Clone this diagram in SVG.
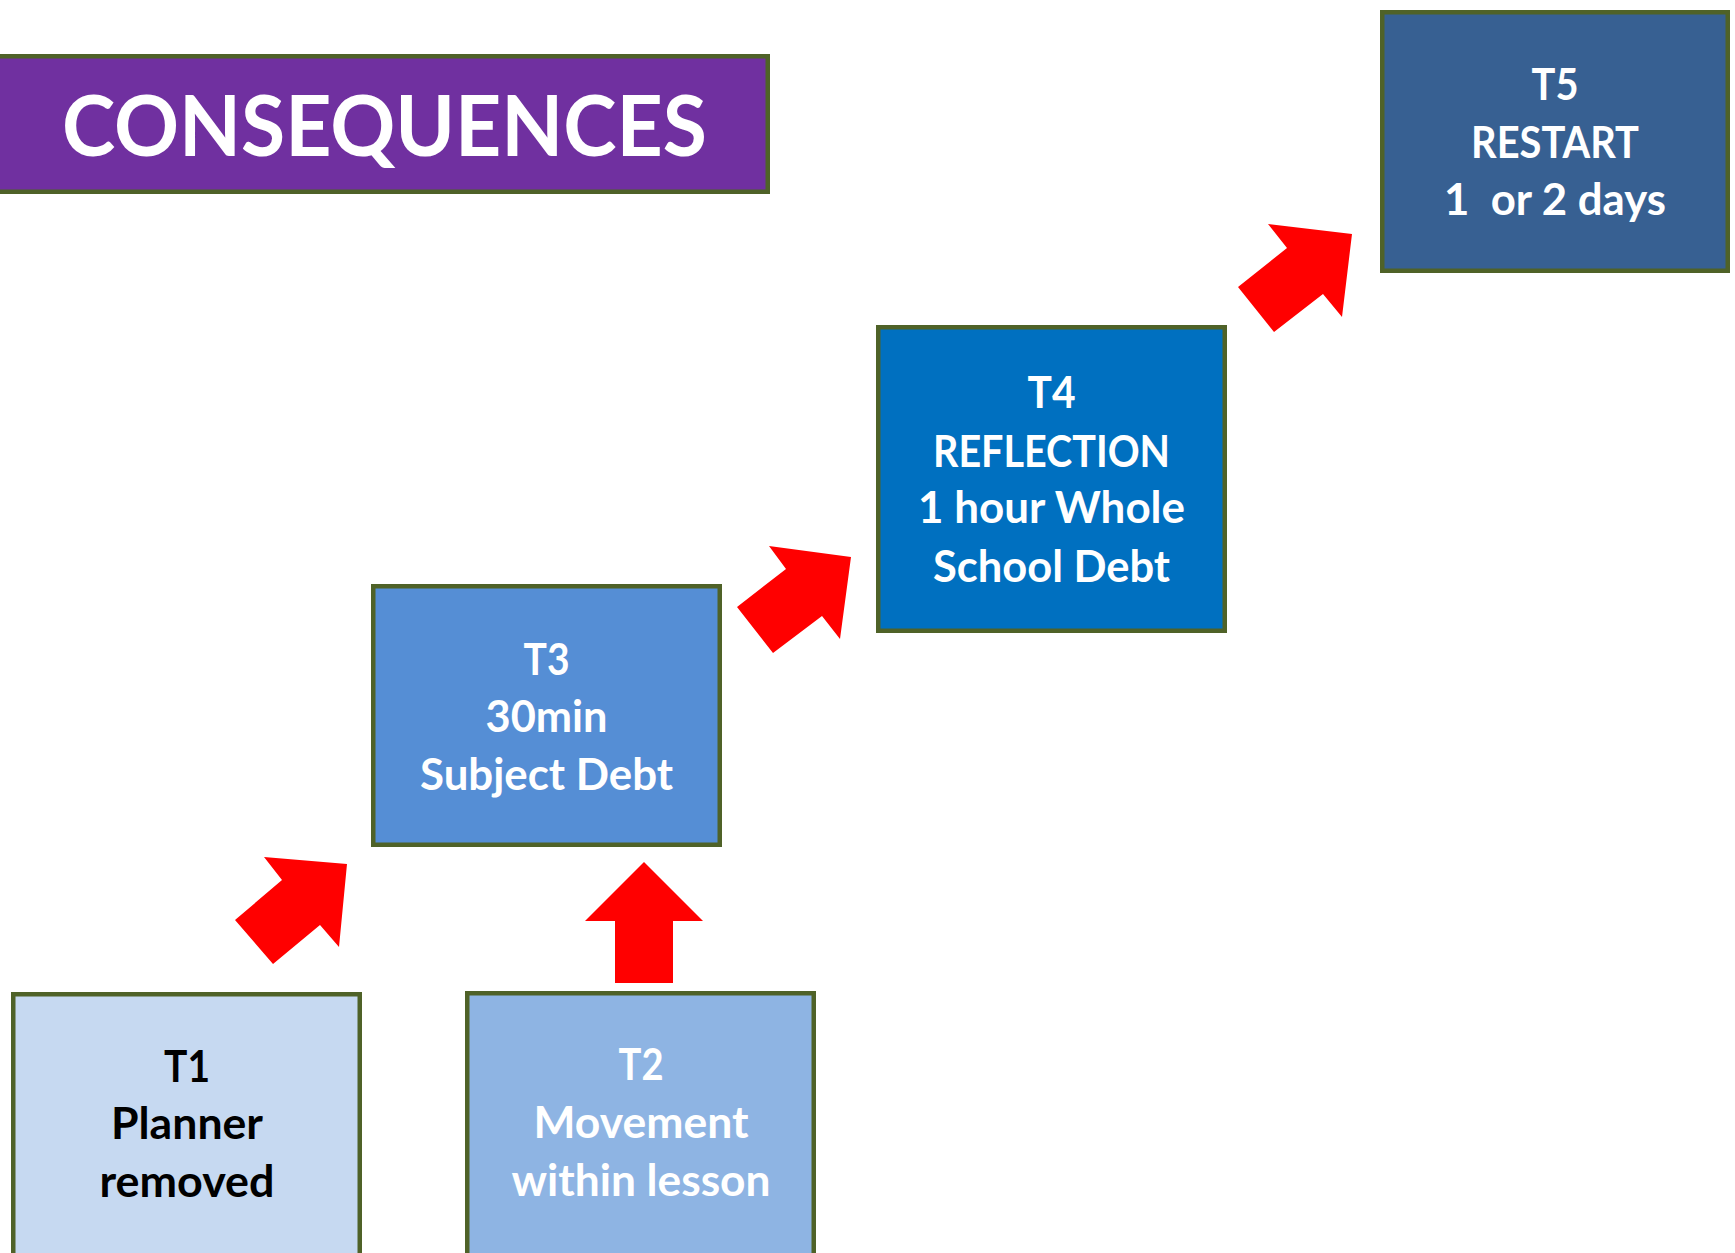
<svg xmlns="http://www.w3.org/2000/svg" width="1735" height="1253" viewBox="0 0 1735 1253">
<style>
.box{stroke:#4F6228;stroke-width:4.5}
.t{font-family:Lato,"Open Sans","Liberation Sans",sans-serif;font-weight:bold;font-size:43px;text-anchor:middle;fill:#FFFFFF}
.big{font-size:85px}
.dark{fill:#000000}
.arrow{fill:#FF0000}
</style>
<rect width="1735" height="1253" fill="#FFFFFF"/>
<g id="title">
<rect class="box" x="-5" y="56.25" width="772.75" height="135.5" fill="#7030A0"/>
<text class="t big" x="384.5" y="156" textLength="645" lengthAdjust="spacingAndGlyphs">CONSEQUENCES</text>
</g>
<g id="connectors">
<polygon class="arrow" points="264,857 347,864 339,947 320,925 273,964 235,920 282,880"/>
<polygon class="arrow" points="644,862 703,921 673,921 673,983 615,983 615,921 585,921"/>
<polygon class="arrow" points="769,546 851,557 840,639 822,616 773,653 737,607 786,569"/>
<polygon class="arrow" points="1268,224 1352,234 1342,317 1323,294 1274,332 1238,287 1287,248"/>
</g>
<g id="T1">
<rect class="box" x="13.25" y="994.25" width="346.5" height="300" fill="#C6D9F1"/>
<text class="t dark" x="187" y="1082" textLength="46" lengthAdjust="spacingAndGlyphs">T1</text>
<text class="t dark" x="187" y="1139" textLength="152" lengthAdjust="spacingAndGlyphs">Planner</text>
<text class="t dark" x="187" y="1197" textLength="175" lengthAdjust="spacingAndGlyphs">removed</text>
</g>
<g id="T2">
<rect class="box" x="467.25" y="993.25" width="346.5" height="300" fill="#8EB4E3"/>
<text class="t" x="641" y="1080" textLength="45" lengthAdjust="spacingAndGlyphs">T2</text>
<text class="t" x="641" y="1138" textLength="215" lengthAdjust="spacingAndGlyphs">Movement</text>
<text class="t" x="641" y="1196" textLength="259" lengthAdjust="spacingAndGlyphs">within lesson</text>
</g>
<g id="T3">
<rect class="box" x="373.25" y="586.25" width="346.5" height="258.5" fill="#558ED5"/>
<text class="t" x="546.5" y="675" textLength="46" lengthAdjust="spacingAndGlyphs">T3</text>
<text class="t" x="546.5" y="732" textLength="122" lengthAdjust="spacingAndGlyphs">30min</text>
<text class="t" x="546.5" y="790" textLength="253" lengthAdjust="spacingAndGlyphs">Subject Debt</text>
</g>
<g id="T4">
<rect class="box" x="878.25" y="327.25" width="346.5" height="303.5" fill="#0070C0"/>
<text class="t" x="1051.5" y="408" textLength="48" lengthAdjust="spacingAndGlyphs">T4</text>
<text class="t" x="1051.5" y="467" textLength="237" lengthAdjust="spacingAndGlyphs">REFLECTION</text>
<text class="t" x="1051.5" y="523" textLength="267" lengthAdjust="spacingAndGlyphs">1 hour Whole</text>
<text class="t" x="1051.5" y="582" textLength="237" lengthAdjust="spacingAndGlyphs">School Debt</text>
</g>
<g id="T5">
<rect class="box" x="1382.25" y="12.25" width="345.5" height="258.5" fill="#376092"/>
<text class="t" x="1555" y="100" textLength="47" lengthAdjust="spacingAndGlyphs">T5</text>
<text class="t" x="1555" y="158" textLength="168" lengthAdjust="spacingAndGlyphs">RESTART</text>
<text class="t" x="1555" y="215" textLength="222" lengthAdjust="spacingAndGlyphs" xml:space="preserve">1  or 2 days</text>
</g>
</svg>
